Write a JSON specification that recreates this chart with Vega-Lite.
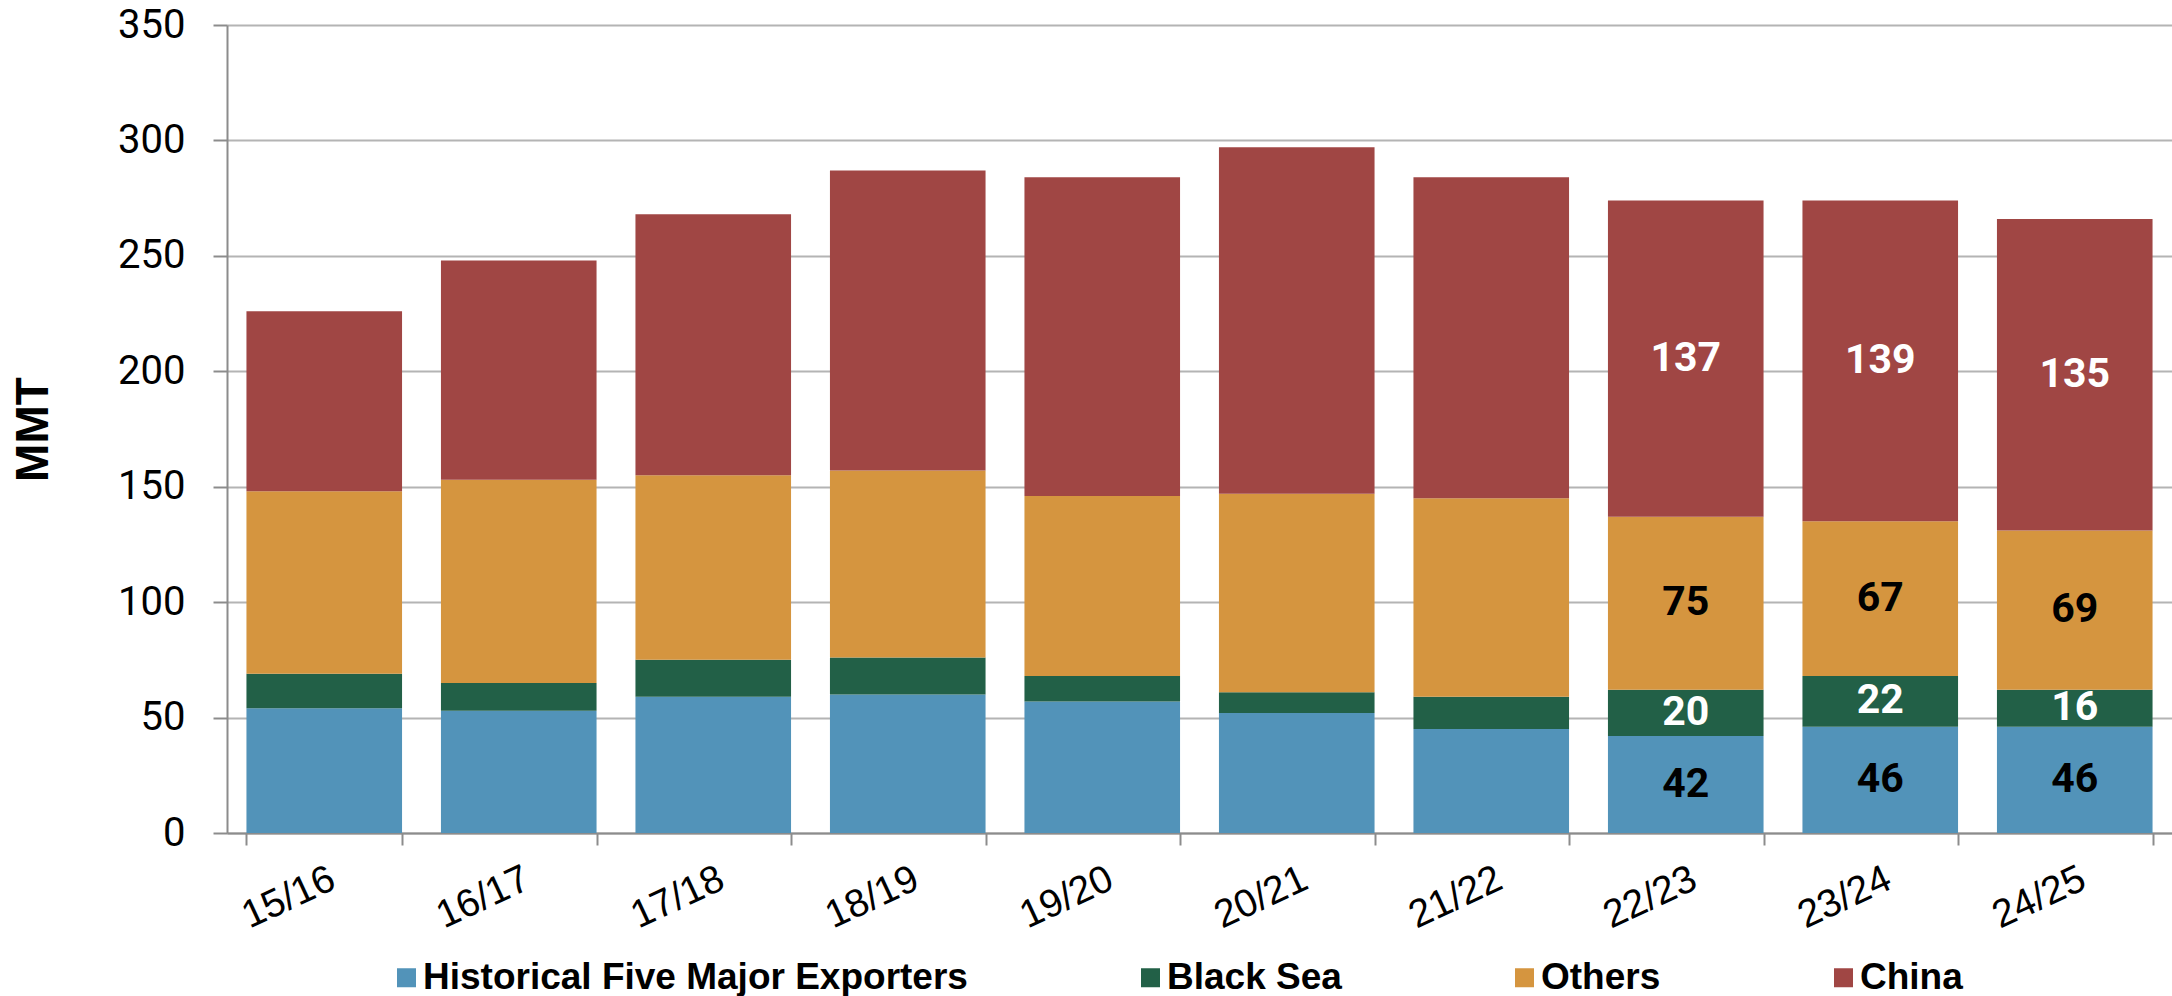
{
  "$schema": "https://vega.github.io/schema/vega-lite/v6.json",
  "autosize": {"type": "none"},
  "padding": {"left": 227, "top": 25, "right": 0, "bottom": 163},
  "width": 1945,
  "height": 808,
  "background": "white",
  "datasets": {
    "bars": [
      {"season": "15/16", "series": "Historical Five Major Exporters", "value": 54},
      {"season": "15/16", "series": "Black Sea", "value": 15},
      {"season": "15/16", "series": "Others", "value": 79},
      {"season": "15/16", "series": "China", "value": 78},
      {"season": "16/17", "series": "Historical Five Major Exporters", "value": 53},
      {"season": "16/17", "series": "Black Sea", "value": 12},
      {"season": "16/17", "series": "Others", "value": 88},
      {"season": "16/17", "series": "China", "value": 95},
      {"season": "17/18", "series": "Historical Five Major Exporters", "value": 59},
      {"season": "17/18", "series": "Black Sea", "value": 16},
      {"season": "17/18", "series": "Others", "value": 80},
      {"season": "17/18", "series": "China", "value": 113},
      {"season": "18/19", "series": "Historical Five Major Exporters", "value": 60},
      {"season": "18/19", "series": "Black Sea", "value": 16},
      {"season": "18/19", "series": "Others", "value": 81},
      {"season": "18/19", "series": "China", "value": 130},
      {"season": "19/20", "series": "Historical Five Major Exporters", "value": 57},
      {"season": "19/20", "series": "Black Sea", "value": 11},
      {"season": "19/20", "series": "Others", "value": 78},
      {"season": "19/20", "series": "China", "value": 138},
      {"season": "20/21", "series": "Historical Five Major Exporters", "value": 52},
      {"season": "20/21", "series": "Black Sea", "value": 9},
      {"season": "20/21", "series": "Others", "value": 86},
      {"season": "20/21", "series": "China", "value": 150},
      {"season": "21/22", "series": "Historical Five Major Exporters", "value": 45},
      {"season": "21/22", "series": "Black Sea", "value": 14},
      {"season": "21/22", "series": "Others", "value": 86},
      {"season": "21/22", "series": "China", "value": 139},
      {"season": "22/23", "series": "Historical Five Major Exporters", "value": 42},
      {"season": "22/23", "series": "Black Sea", "value": 20},
      {"season": "22/23", "series": "Others", "value": 75},
      {"season": "22/23", "series": "China", "value": 137},
      {"season": "23/24", "series": "Historical Five Major Exporters", "value": 46},
      {"season": "23/24", "series": "Black Sea", "value": 22},
      {"season": "23/24", "series": "Others", "value": 67},
      {"season": "23/24", "series": "China", "value": 139},
      {"season": "24/25", "series": "Historical Five Major Exporters", "value": 46},
      {"season": "24/25", "series": "Black Sea", "value": 16},
      {"season": "24/25", "series": "Others", "value": 69},
      {"season": "24/25", "series": "China", "value": 135}
    ],
    "seriesOrder": [
      {"series": "Historical Five Major Exporters", "rank": 1},
      {"series": "Black Sea", "rank": 2},
      {"series": "Others", "rank": 3},
      {"series": "China", "rank": 4}
    ]
  },
  "data": {"name": "bars"},
  "transform": [
    {"lookup": "series", "from": {"data": {"name": "seriesOrder"}, "key": "series", "fields": ["rank"]}}
  ],
  "encoding": {
    "x": {
      "field": "season",
      "type": "nominal",
      "sort": null,
      "scale": {
        "domain": ["15/16", "16/17", "17/18", "18/19", "19/20", "20/21", "21/22", "22/23", "23/24", "24/25"],
        "paddingInner": 0.2,
        "paddingOuter": 0.1
      },
      "axis": {
        "title": null,
        "labelAngle": -25,
        "labelAlign": "right",
        "labelBaseline": "top",
        "labelFont": "Liberation Sans",
        "labelFontSize": 39,
        "labelColor": "#000000",
        "labelPadding": 14,
        "labelOverlap": false,
        "tickBand": "extent",
        "tickSize": 12,
        "tickWidth": 2,
        "tickColor": "#8c8c8c",
        "domainColor": "#8c8c8c",
        "domainWidth": 2,
        "grid": false
      }
    }
  },
  "layer": [
    {
      "mark": {"type": "bar"},
      "encoding": {
        "y": {
          "field": "value",
          "type": "quantitative",
          "stack": "zero",
          "title": "MMT",
          "scale": {"domain": [0, 350], "nice": false},
          "axis": {"title": "MMT", "values": [0, 50, 100, 150, 200, 250, 300, 350]}
        },
        "order": {"field": "rank", "type": "quantitative", "sort": "ascending"},
        "color": {
          "field": "series",
          "type": "nominal",
          "sort": ["Historical Five Major Exporters", "Black Sea", "Others", "China"],
          "scale": {
            "domain": ["Historical Five Major Exporters", "Black Sea", "Others", "China"],
            "range": ["#5293B9", "#226047", "#D5953F", "#A04644"]
          },
          "legend": {
            "title": null,
            "orient": "none",
            "direction": "horizontal",
            "legendX": 161,
            "legendY": 934,
            "symbolType": "square",
            "symbolSize": 361,
            "symbolStrokeWidth": 0,
            "labelFont": "Liberation Sans",
            "labelFontWeight": "bold",
            "labelFontSize": 37,
            "labelColor": "#000000",
            "labelOffset": -2,
            "labelLimit": 1000,
            "columnPadding": 164
          }
        }
      }
    },
    {
      "transform": [
        {"filter": {"field": "season", "oneOf": ["22/23", "23/24", "24/25"]}},
        {"stack": "value", "groupby": ["season"], "sort": [{"field": "rank", "order": "ascending"}], "as": ["v0", "v1"]},
        {"fold": ["v0", "v1"], "as": ["edge", "pos"]},
        {"aggregate": [{"op": "mean", "field": "pos", "as": "mid"}], "groupby": ["season", "series", "value"]}
      ],
      "mark": {
        "type": "text",
        "font": "Roboto",
        "fontWeight": "bold",
        "fontSize": 41,
        "align": "center",
        "baseline": "middle"
      },
      "encoding": {
        "y": {
          "field": "mid",
          "type": "quantitative",
          "title": "MMT",
          "axis": {"title": "MMT", "values": [0, 50, 100, 150, 200, 250, 300, 350]}
        },
        "text": {"field": "value", "type": "quantitative"},
        "color": {
          "field": "series",
          "type": "nominal",
          "scale": {
            "domain": ["Historical Five Major Exporters", "Black Sea", "Others", "China"],
            "range": ["#000000", "#ffffff", "#000000", "#ffffff"]
          },
          "legend": null
        }
      }
    }
  ],
  "resolve": {"scale": {"color": "independent"}},
  "config": {
    "view": {"stroke": null},
    "axis": {"labelFontWeight": "normal"},
    "axisY": {
      "titleFont": "Liberation Sans",
      "titleFontSize": 46,
      "titleFontWeight": "bold",
      "titleColor": "#000000",
      "titleAngle": 270,
      "titleAlign": "center",
      "titleBaseline": "alphabetic",
      "titleX": -180,
      "titleY": 404,
      "labelFont": "Roboto",
      "labelFontSize": 40,
      "labelColor": "#000000",
      "labelPadding": 28,
      "tickSize": 14,
      "tickWidth": 2,
      "tickColor": "#8c8c8c",
      "domainColor": "#8c8c8c",
      "domainWidth": 2,
      "grid": true,
      "gridColor": "#b4b4b4",
      "gridWidth": 2
    }
  }
}
